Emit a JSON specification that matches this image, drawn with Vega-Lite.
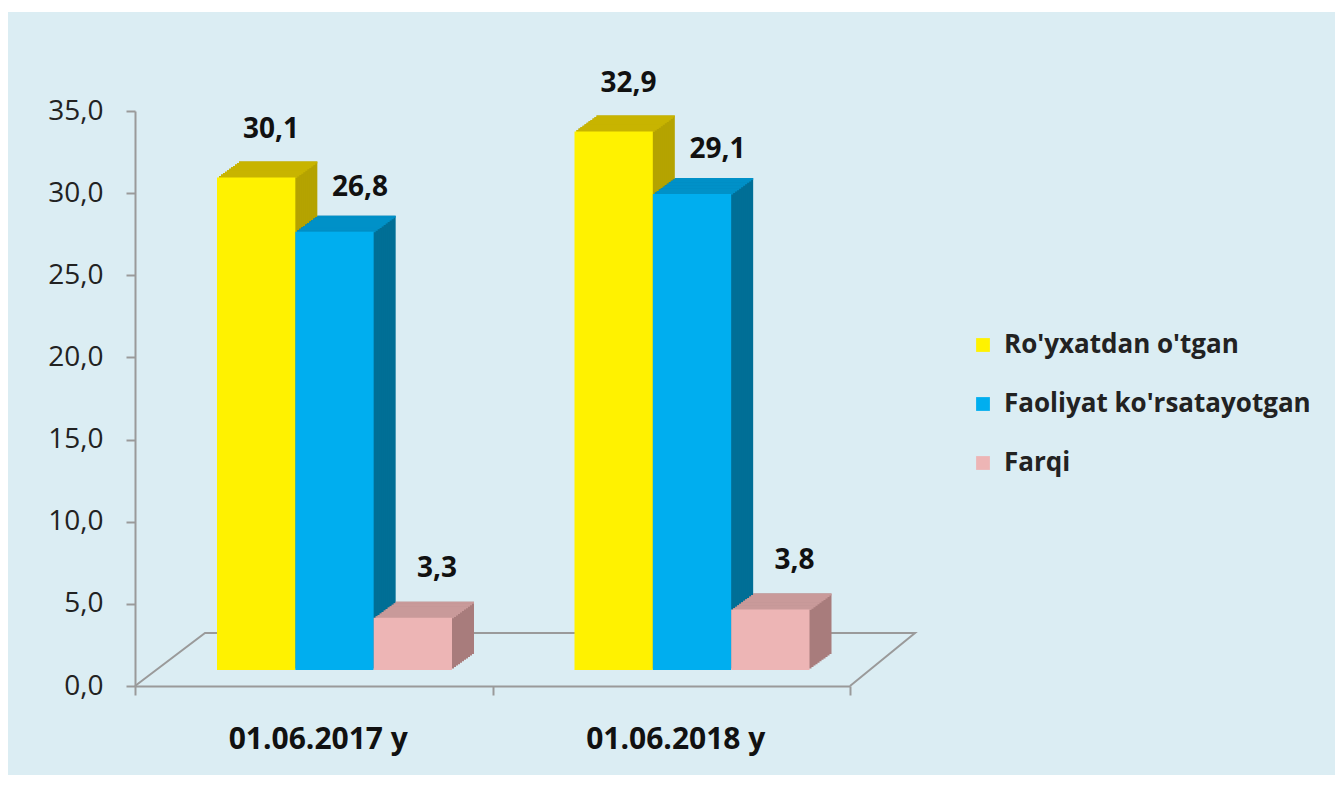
{"$schema":"https://vega.github.io/schema/vega-lite/v6.json","autosize":"none","width":715,"height":575,"padding":{"left":135,"top":111,"right":485,"bottom":106},"background":"#ffffff","view":{"stroke":null},
"datasets":{"bars":[
{"date":"01.06.2017 y","series":"Ro'yxatdan o'tgan","value":30.1,"label":"30,1"},
{"date":"01.06.2017 y","series":"Faoliyat ko'rsatayotgan","value":26.8,"label":"26,8"},
{"date":"01.06.2017 y","series":"Farqi","value":3.3,"label":"3,3"},
{"date":"01.06.2018 y","series":"Ro'yxatdan o'tgan","value":32.9,"label":"32,9"},
{"date":"01.06.2018 y","series":"Faoliyat ko'rsatayotgan","value":29.1,"label":"29,1"},
{"date":"01.06.2018 y","series":"Farqi","value":3.8,"label":"3,8"}],
"floor":[{"fx":0,"fy":0,"o":0},{"fx":70,"fy":3.23,"o":1},{"fx":780,"fy":3.23,"o":2},{"fx":715,"fy":0,"o":3}],
"panel":[{"a":-127,"b":1200,"c":41.02,"d":-5.42}]},
"layer":[
{"data":{"name":"panel"},"mark":{"type":"rect","fill":"#DBEDF3"},"encoding":{"x":{"field":"a","type":"quantitative","scale":{"domain":[0,715]},"axis":null},"x2":{"field":"b"},"y":{"field":"c","type":"quantitative","scale":{"domain":[0,35],"nice":false},"axis":null},"y2":{"field":"d"}}},
{"data":{"name":"floor"},"mark":{"type":"line","stroke":"#9a9a9a","strokeWidth":2},"encoding":{"x":{"field":"fx","type":"quantitative","scale":{"domain":[0,715]},"axis":null},"y":{"field":"fy","type":"quantitative","scale":{"domain":[0,35],"nice":false},"axis":null},"order":{"field":"o"}}},
{"data":{"name":"bars"},
"encoding":{"x":{"field":"date","type":"nominal","title":null,"scale":{"paddingInner":0,"paddingOuter":0},"axis":{"zindex":1,"labelAngle":0,"labelFont":"Open Sans","labelFontSize":30,"labelFontWeight":"bold","labelColor":"#111111","labelPadding":29,"labelOffset":4,"domainColor":"#9a9a9a","domainWidth":2,"tickColor":"#9a9a9a","tickWidth":2,"tickSize":9,"tickBand":"extent"}},
"y":{"field":"value","type":"quantitative","stack":null,"title":null,"scale":{"domain":[0,35],"nice":false},"axis":{"zindex":1,"values":[0,5,10,15,20,25,30,35],"grid":false,"labelExpr":"replace(format(datum.value,'.1f'),'.',',')","labelFont":"Open Sans","labelFontSize":28,"labelColor":"#222222","labelPadding":23,"domainColor":"#9a9a9a","domainWidth":2,"tickColor":"#9a9a9a","tickWidth":2,"tickSize":9}}},
"layer":[
{"encoding":{"y2":{"datum":0},"color":{"field":"series","type":"nominal","sort":null,"legend":null,"scale":{"range":["#B5A300","#006F96","#A87C7C"]}}},
"layer":[
{"mark":{"type":"bar","yOffset":-30,"y2Offset":-32},"encoding":{"xOffset":{"field":"series","sort":null,"scale":{"range":[104,339],"paddingInner":0,"paddingOuter":0}}}},
{"mark":{"type":"bar","yOffset":-28.5,"y2Offset":-30.5},"encoding":{"xOffset":{"field":"series","sort":null,"scale":{"range":[102,337],"paddingInner":0,"paddingOuter":0}}}},
{"mark":{"type":"bar","yOffset":-27.1,"y2Offset":-29.1},"encoding":{"xOffset":{"field":"series","sort":null,"scale":{"range":[100,335],"paddingInner":0,"paddingOuter":0}}}},
{"mark":{"type":"bar","yOffset":-25.6,"y2Offset":-27.6},"encoding":{"xOffset":{"field":"series","sort":null,"scale":{"range":[98,333],"paddingInner":0,"paddingOuter":0}}}},
{"mark":{"type":"bar","yOffset":-24.2,"y2Offset":-26.2},"encoding":{"xOffset":{"field":"series","sort":null,"scale":{"range":[96,331],"paddingInner":0,"paddingOuter":0}}}},
{"mark":{"type":"bar","yOffset":-22.7,"y2Offset":-24.7},"encoding":{"xOffset":{"field":"series","sort":null,"scale":{"range":[94,329],"paddingInner":0,"paddingOuter":0}}}},
{"mark":{"type":"bar","yOffset":-21.3,"y2Offset":-23.3},"encoding":{"xOffset":{"field":"series","sort":null,"scale":{"range":[92,327],"paddingInner":0,"paddingOuter":0}}}},
{"mark":{"type":"bar","yOffset":-19.8,"y2Offset":-21.8},"encoding":{"xOffset":{"field":"series","sort":null,"scale":{"range":[90,325],"paddingInner":0,"paddingOuter":0}}}},
{"mark":{"type":"bar","yOffset":-18.4,"y2Offset":-20.4},"encoding":{"xOffset":{"field":"series","sort":null,"scale":{"range":[88,323],"paddingInner":0,"paddingOuter":0}}}},
{"mark":{"type":"bar","yOffset":-16.9,"y2Offset":-18.9},"encoding":{"xOffset":{"field":"series","sort":null,"scale":{"range":[86,321],"paddingInner":0,"paddingOuter":0}}}},
{"mark":{"type":"bar","yOffset":-15.5,"y2Offset":-17.5},"encoding":{"xOffset":{"field":"series","sort":null,"scale":{"range":[84,319],"paddingInner":0,"paddingOuter":0}}}}],
"resolve":{"scale":{"xOffset":"independent"}}},
{"encoding":{"y2":{"field":"value"},"color":{"field":"series","type":"nominal","sort":null,"legend":null,"scale":{"range":["#C8B400","#0091C8","#C99A9A"]}}},
"layer":[
{"mark":{"type":"bar","yOffset":-30,"y2Offset":-28},"encoding":{"xOffset":{"field":"series","sort":null,"scale":{"range":[104,339],"paddingInner":0,"paddingOuter":0}}}},
{"mark":{"type":"bar","yOffset":-28.5,"y2Offset":-26.5},"encoding":{"xOffset":{"field":"series","sort":null,"scale":{"range":[102,337],"paddingInner":0,"paddingOuter":0}}}},
{"mark":{"type":"bar","yOffset":-27.1,"y2Offset":-25.1},"encoding":{"xOffset":{"field":"series","sort":null,"scale":{"range":[100,335],"paddingInner":0,"paddingOuter":0}}}},
{"mark":{"type":"bar","yOffset":-25.6,"y2Offset":-23.6},"encoding":{"xOffset":{"field":"series","sort":null,"scale":{"range":[98,333],"paddingInner":0,"paddingOuter":0}}}},
{"mark":{"type":"bar","yOffset":-24.2,"y2Offset":-22.2},"encoding":{"xOffset":{"field":"series","sort":null,"scale":{"range":[96,331],"paddingInner":0,"paddingOuter":0}}}},
{"mark":{"type":"bar","yOffset":-22.7,"y2Offset":-20.7},"encoding":{"xOffset":{"field":"series","sort":null,"scale":{"range":[94,329],"paddingInner":0,"paddingOuter":0}}}},
{"mark":{"type":"bar","yOffset":-21.3,"y2Offset":-19.3},"encoding":{"xOffset":{"field":"series","sort":null,"scale":{"range":[92,327],"paddingInner":0,"paddingOuter":0}}}},
{"mark":{"type":"bar","yOffset":-19.8,"y2Offset":-17.8},"encoding":{"xOffset":{"field":"series","sort":null,"scale":{"range":[90,325],"paddingInner":0,"paddingOuter":0}}}},
{"mark":{"type":"bar","yOffset":-18.4,"y2Offset":-16.4},"encoding":{"xOffset":{"field":"series","sort":null,"scale":{"range":[88,323],"paddingInner":0,"paddingOuter":0}}}},
{"mark":{"type":"bar","yOffset":-16.9,"y2Offset":-14.9},"encoding":{"xOffset":{"field":"series","sort":null,"scale":{"range":[86,321],"paddingInner":0,"paddingOuter":0}}}},
{"mark":{"type":"bar","yOffset":-15.5,"y2Offset":-13.5},"encoding":{"xOffset":{"field":"series","sort":null,"scale":{"range":[84,319],"paddingInner":0,"paddingOuter":0}}}}],
"resolve":{"scale":{"xOffset":"independent"}}},
{"mark":{"type":"bar","yOffset":-14,"y2Offset":-16},
"encoding":{"y2":{"datum":0},"xOffset":{"field":"series","sort":null,"scale":{"range":[82,317],"paddingInner":0,"paddingOuter":0}},"color":{"field":"series","type":"nominal","sort":null,"scale":{"range":["#FFF200","#00AEEF","#EDB5B5"]},
"legend":{"title":null,"orient":"none","legendX":835,"legendY":221,"symbolType":"square","symbolSize":190,"symbolStrokeWidth":0,"labelFont":"Open Sans","labelFontSize":26,"labelFontWeight":"bold","labelColor":"#222222","rowPadding":33,"labelOffset":8,"labelLimit":400}}}},
{"transform":[{"filter":"datum.series=='Ro\\'yxatdan o\\'tgan'"}],"mark":{"type":"text","font":"Open Sans","fontSize":28,"fontWeight":"bold","color":"#111111","dx":15,"dy":-62},"encoding":{"text":{"field":"label"},"xOffset":{"datum":"Ro'yxatdan o'tgan","scale":{"domain":["Ro'yxatdan o'tgan"],"range":[82,160],"paddingInner":0,"paddingOuter":0}}}},
{"transform":[{"filter":"datum.series=='Faoliyat ko\\'rsatayotgan'"}],"mark":{"type":"text","font":"Open Sans","fontSize":28,"fontWeight":"bold","color":"#111111","dx":26,"dy":-58},"encoding":{"text":{"field":"label"},"xOffset":{"datum":"Faoliyat ko'rsatayotgan","scale":{"domain":["Faoliyat ko'rsatayotgan"],"range":[160,238],"paddingInner":0,"paddingOuter":0}}}},
{"transform":[{"filter":"datum.series=='Farqi'"}],"mark":{"type":"text","font":"Open Sans","fontSize":28,"fontWeight":"bold","color":"#111111","dx":24,"dy":-63},"encoding":{"text":{"field":"label"},"xOffset":{"datum":"Farqi","scale":{"domain":["Farqi"],"range":[239,317],"paddingInner":0,"paddingOuter":0}}}}
],
"resolve":{"scale":{"color":"independent","xOffset":"independent"}}}
],
"resolve":{"scale":{"x":"independent"},"axis":{"x":"independent","y":"independent"}}}
